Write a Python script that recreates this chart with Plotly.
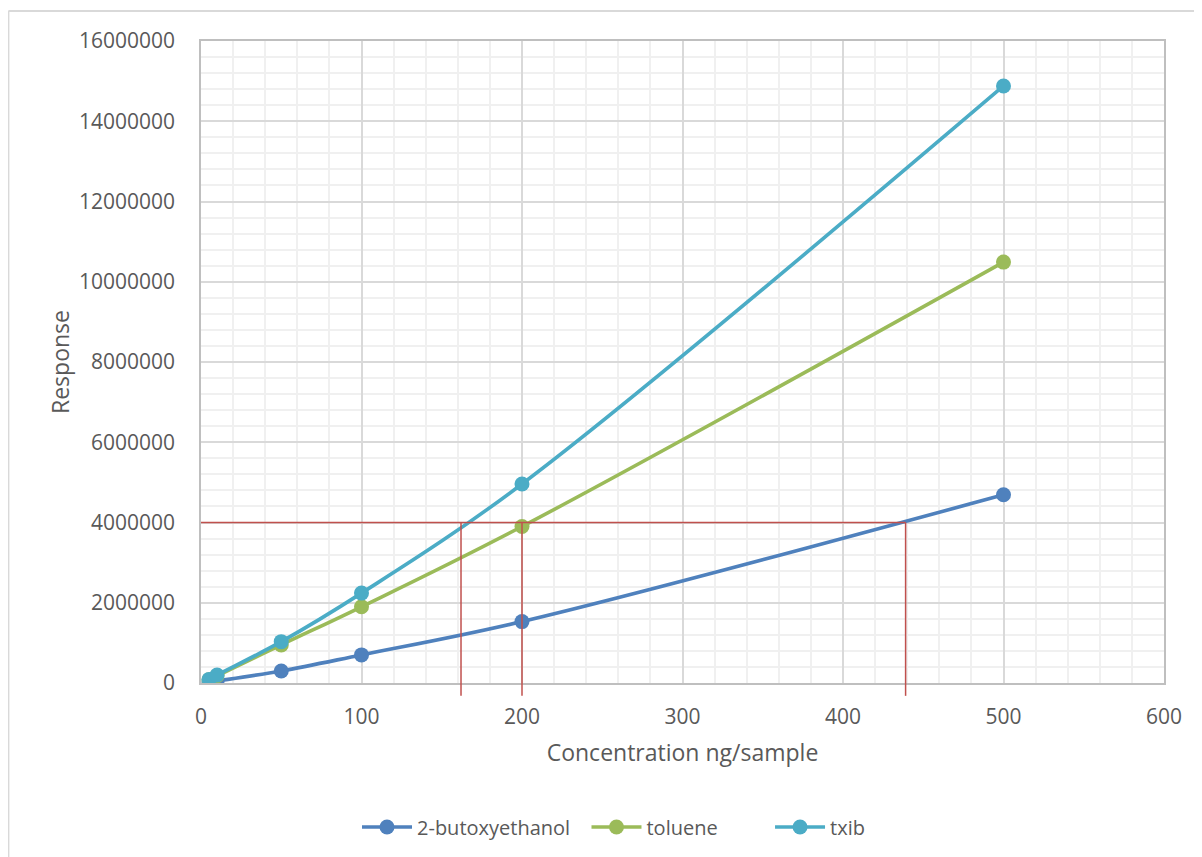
import plotly.graph_objects as go

conc = [5, 10, 50, 100, 200, 500]
butoxy = [20000, 50000, 300000, 700000, 1530000, 4690000]
toluene = [80000, 180000, 950000, 1900000, 3900000, 10490000]
txib = [90000, 200000, 1030000, 2240000, 4960000, 14880000]

ref_level = 4000000
ref_x = [162, 200, 439]

names = ["2-butoxyethanol", "toluene", "txib"]
colors = ["#4F81BD", "#9BBB59", "#4BACC6"]
series = [butoxy, toluene, txib]
legend_ids = ["legend", "legend2", "legend3"]
legend_x = [0.162, 0.4003, 0.5909]

FONT = "Open Sans"
TXT = "#595959"

fig = go.Figure()
for n, c, s, lg in zip(names, colors, series, legend_ids):
    fig.add_trace(go.Scatter(
        x=conc, y=s, name=n, mode="lines+markers", legend=lg,
        line=dict(color=c, width=3.6, shape="spline", smoothing=1.0),
        marker=dict(color=c, size=15),
    ))

# plot area: 963 x 642 px
shapes = []
shapes.append(dict(type="line", xref="x", yref="y", x0=0, x1=ref_x[-1],
                   y0=ref_level, y1=ref_level, line=dict(color="#C0504D", width=1.5)))
for rx in ref_x:
    shapes.append(dict(type="line", xref="x", yref="paper", x0=rx, x1=rx,
                       y0=-0.02, y1=ref_level / 16000000.0,
                       line=dict(color="#C0504D", width=1.5)))
# outer chart border (top and left)
shapes.append(dict(type="line", xref="paper", yref="paper", x0=-0.2, x1=1.2,
                   y0=1.0467, y1=1.0467, line=dict(color="#D9D9D9", width=2)))
shapes.append(dict(type="line", xref="paper", yref="paper", x0=-0.2, x1=-0.2,
                   y0=-0.4, y1=1.0467, line=dict(color="#D9D9D9", width=2)))

legend_common = dict(orientation="h", xanchor="left", y=-0.194, yanchor="top",
                     font=dict(family=FONT, size=20, color=TXT), itemwidth=50,
                     bgcolor="rgba(0,0,0,0)")

fig.update_layout(
    width=1202, height=857,
    margin=dict(l=193, r=46, t=33, b=182),
    paper_bgcolor="white", plot_bgcolor="white",
    font=dict(family=FONT, size=21, color=TXT),
    showlegend=True,
    legend=dict(x=legend_x[0], **legend_common),
    legend2=dict(x=legend_x[1], **legend_common),
    legend3=dict(x=legend_x[2], **legend_common),
    shapes=shapes,
    xaxis=dict(
        range=[0, 600], dtick=100, tick0=0,
        showgrid=True, gridcolor="#D9D9D9", gridwidth=1.5,
        minor=dict(dtick=20, showgrid=True, gridcolor="#F0F0F0", gridwidth=1.5),
        showline=True, linecolor="#BFBFBF", linewidth=1.5, mirror=True,
        zeroline=False, ticks="", ticklabelstandoff=14,
        tickfont=dict(family=FONT, size=21, color=TXT),
        title=dict(text="Concentration ng/sample", standoff=16,
                   font=dict(family=FONT, size=23, color=TXT)),
    ),
    yaxis=dict(
        range=[0, 16000000], dtick=2000000, tick0=0,
        showgrid=True, gridcolor="#D9D9D9", gridwidth=1.5,
        minor=dict(dtick=400000, showgrid=True, gridcolor="#F0F0F0", gridwidth=1.5),
        showline=True, linecolor="#BFBFBF", linewidth=1.5, mirror=True,
        zeroline=False, ticks="", ticklabelstandoff=20, tickformat="d",
        tickfont=dict(family=FONT, size=21, color=TXT),
        title=dict(text="Response", standoff=3,
                   font=dict(family=FONT, size=23, color=TXT)),
    ),
)

fig.write_html("out.html")
